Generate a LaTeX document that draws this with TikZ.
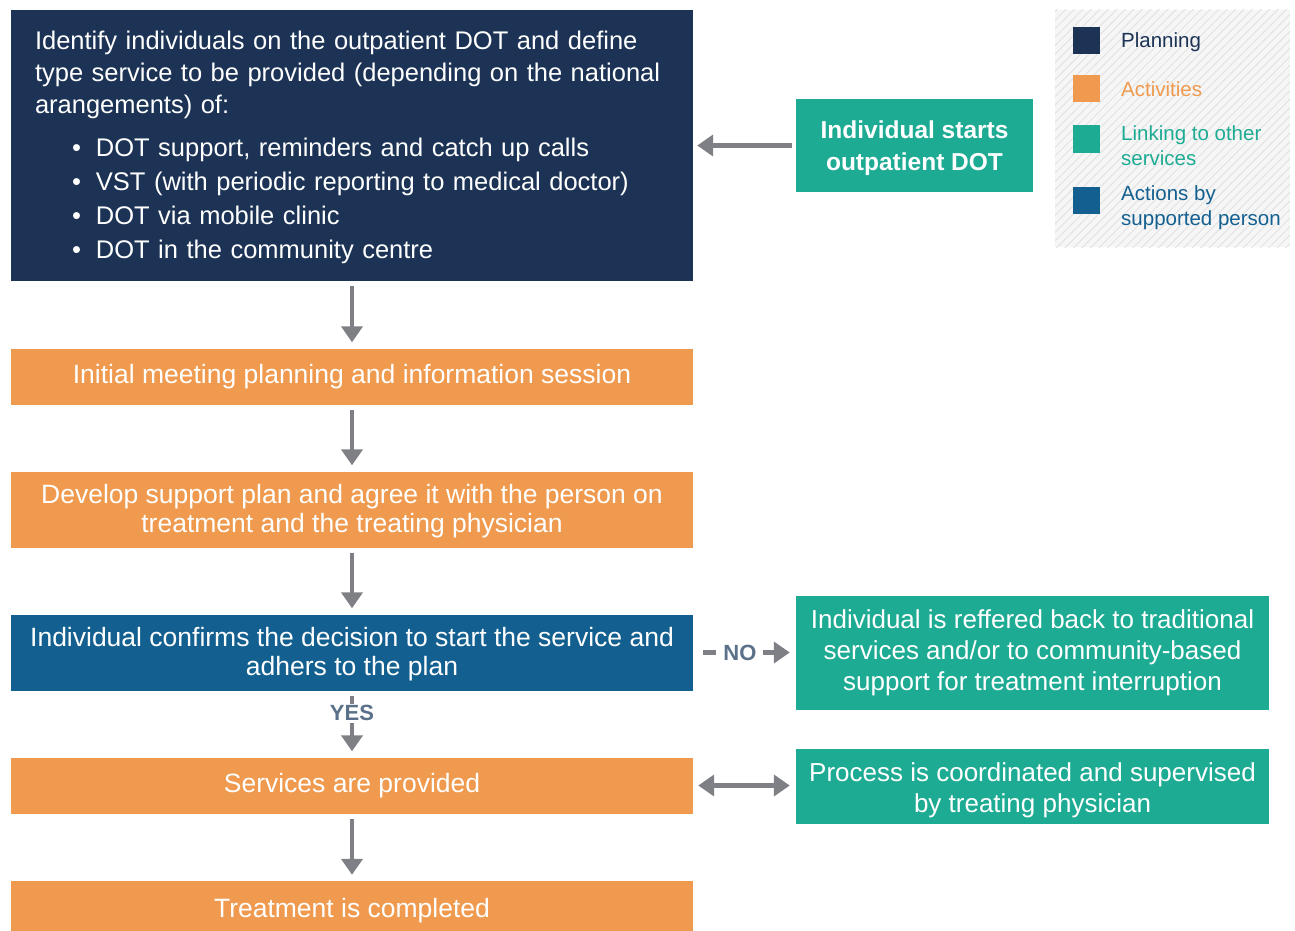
\documentclass[tikz,border=0pt]{standalone}
\usepackage{fontspec}
\setmainfont{Liberation Sans}
\usepackage{tikz}
\usetikzlibrary{arrows.meta, positioning, patterns.meta}
\definecolor{planning}{HTML}{1C3356}
\definecolor{activity}{HTML}{EF9A4E}
\definecolor{linking}{HTML}{1DAB93}
\definecolor{person}{HTML}{136090}
\definecolor{arrowgray}{HTML}{7E8085}
\definecolor{answergray}{HTML}{5A7189}
\definecolor{legendbg}{HTML}{F6F6F6}

\begin{document}
\begin{tikzpicture}[x=1pt, y=-1pt]
\tikzstyle{box}=[minimum width=682pt, inner sep=0pt, text=white, align=center, font=\fontsize{26.5}{29}\selectfont]
\tikzstyle{plan}=[box, fill=planning, minimum height=271pt, text width=634pt, align=left, font=\fontsize{25.5}{32}\selectfont]
\tikzstyle{activitybox}=[box, fill=activity, minimum height=56pt]
\tikzstyle{personbox}=[box, fill=person, minimum height=76pt]
\tikzstyle{linkbox}=[inner sep=0pt, fill=linking, text=white, align=center, minimum width=473pt, font=\fontsize{26}{31}\selectfont]
\tikzstyle{flow}=[color=arrowgray, line width=4.5pt, shorten <=5pt, shorten >=6pt, -{Triangle[width=21pt,length=16pt]}]
\tikzstyle{answer}=[fill=white, inner xsep=7pt, inner ysep=2pt, text=answergray, font=\bfseries\fontsize{22}{22}\selectfont]
\tikzstyle{legsq}=[minimum size=27pt, inner sep=0pt]
\tikzstyle{legtext}=[anchor=west, inner sep=0pt, align=left, font=\fontsize{20.5}{25}\selectfont]

\useasboundingbox (0,0) rectangle (1295,931);

\node[plan] (ident) at (352,145.5) {\rule{0pt}{22pt}Identify individuals on the outpatient DOT and define\\
type service to be provided (depending on the national\\
arangements) of:\\[11pt]
\hspace*{37pt}\textbullet\hspace*{15pt}DOT support, reminders and catch up calls\\[2pt]
\hspace*{37pt}\textbullet\hspace*{15pt}VST (with periodic reporting to medical doctor)\\[2pt]
\hspace*{37pt}\textbullet\hspace*{15pt}DOT via mobile clinic\\[2pt]
\hspace*{37pt}\textbullet\hspace*{15pt}DOT in the community centre};
\node[activitybox] (initmeet) at (352,376.5) {Initial meeting planning and information session};
\node[activitybox, minimum height=76pt] (develop) at (352,509.5) {\rule{0pt}{22pt}Develop support plan and agree it with the person on\\treatment and the treating physician};
\node[personbox] (confirm) at (352,652.5) {\rule{0pt}{22pt}Individual confirms the decision to start the service and\\adhers to the plan};
\node[activitybox] (provided) at (352,785.5) {Services are provided};
\node[activitybox, minimum height=54pt] (complete) at (352,908) {\rule{0pt}{25pt}Treatment is completed};

\node[linkbox, minimum width=237pt, minimum height=92pt, font=\bfseries\fontsize{24.5}{32}\selectfont] (start) at (914.5,145.5) {\rule{0pt}{24pt}Individual starts\\outpatient DOT};
\node[linkbox, minimum height=114pt] (refer) at (1032.5,652.5) {Individual is reffered back to traditional\\services and/or to community-based\\support for treatment interruption};
\node[linkbox, minimum height=75pt] (coord) at (1032.5,786) {\rule{0pt}{28pt}Process is coordinated and supervised\\by treating physician};

\path[flow]
(ident) edge (initmeet)
(initmeet) edge (develop)
(develop) edge (confirm)
(confirm) edge node[answer, pos=0.34] {YES} (provided)
(provided) edge (complete)
(start) edge[shorten <=4pt, shorten >=4pt] (ident)
(confirm) edge[shorten <=10pt] node[answer, pos=0.456] {NO} (refer)
(provided.east) edge[{Triangle[width=21pt,length=16pt]}-{Triangle[width=21pt,length=16pt]}] (coord.west |- provided.east);

\fill[legendbg] (1055,10) rectangle (1290,247);
\fill[pattern={Lines[angle=45, distance=6pt, line width=1pt]}, pattern color=black!11] (1055,10) rectangle (1290,247);
\node[legsq, fill=planning] (lplan) at (1086.5,41) {};
\node[legsq, fill=activity] (lact) at (1086.5,89) {};
\node[legsq, fill=linking] (llink) at (1086.5,139) {};
\node[legsq, fill=person] (lpers) at (1086.5,200) {};
\node[legtext, text=planning] at (1121,42) {Planning};
\node[legtext, text=activity] at (1121,89) {Activities};
\node[legtext, text=linking] at (1121,146) {Linking to other\\services};
\node[legtext, text=person] at (1121,208) {Actions by\\supported person};

\end{tikzpicture}
\end{document}
